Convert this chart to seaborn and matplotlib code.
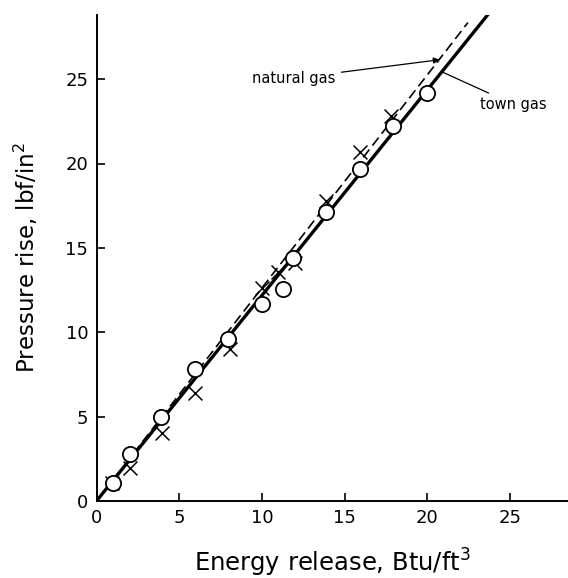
import numpy as np
import pandas as pd
import matplotlib
matplotlib.use("Agg")
import matplotlib.pyplot as plt
import seaborn as sns

# Measured points: town gas (circles) and natural gas (crosses)
town_energy = [1.0, 2.0, 3.9, 5.95, 7.95, 10.0, 11.3, 11.9, 13.9, 15.9, 17.9, 19.95]
town_pressure = [1.05, 2.8, 5.0, 7.8, 9.6, 11.67, 12.56, 14.4, 17.1, 19.7, 22.2, 24.17]

natural_energy = [0.92, 2.0, 3.94, 5.95, 8.05, 10.0, 11.0, 12.0, 13.9, 15.9, 17.8]
natural_pressure = [1.05, 1.95, 4.03, 6.4, 9.0, 12.6, 13.6, 14.1, 17.8, 20.7, 22.8]

# Straight-line fits through the origin
town_fit_energy = [0.0, 23.8]
town_fit_pressure = [0.0, 29.0]
natural_fit_energy = [0.0, 22.45]
natural_fit_pressure = [0.0, 28.35]

x_ticks = [0, 5, 10, 15, 20, 25]
y_ticks = [0, 5, 10, 15, 20, 25]

sns.set_style("ticks")
plt.rcParams["font.family"] = ["DejaVu Sans"]
plt.rcParams["text.color"] = "black"
plt.rcParams["axes.labelcolor"] = "black"

fig = plt.figure(figsize=(5.68, 5.78), dpi=100)
ax = fig.add_axes([96.5 / 568, 77 / 578, (568 - 96.5) / 568, 486 / 578])

town_pts = pd.DataFrame({"energy": town_energy, "pressure": town_pressure})
nat_pts = pd.DataFrame({"energy": natural_energy, "pressure": natural_pressure})
town_fit = pd.DataFrame({"energy": town_fit_energy, "pressure": town_fit_pressure})
nat_fit = pd.DataFrame({"energy": natural_fit_energy, "pressure": natural_fit_pressure})

sns.lineplot(data=town_fit, x="energy", y="pressure", ax=ax, color="black",
             linewidth=2.4, zorder=3)
sns.lineplot(data=nat_fit, x="energy", y="pressure", ax=ax, color="black",
             linewidth=1.2, linestyle=(0, (6, 3)), zorder=3)

sns.scatterplot(data=nat_pts, x="energy", y="pressure", ax=ax, marker="x",
                s=100, color="black", linewidth=1.1, zorder=4)
sns.scatterplot(data=town_pts, x="energy", y="pressure", ax=ax, marker="o",
                s=120, facecolor="white", edgecolor="black", linewidth=1.3, zorder=5)

ax.set_xlim(0, 28.5)
ax.set_ylim(0, 28.8)
ax.set_xticks(x_ticks)
ax.set_yticks(y_ticks)
ax.tick_params(direction="in", length=6, width=1.2, labelsize=13, colors="black", pad=6)
for side in ("left", "bottom"):
    ax.spines[side].set_linewidth(1.4)
    ax.spines[side].set_color("black")
sns.despine(ax=ax)

ax.set_xlabel("Energy release, Btu/ft$^3$", fontsize=17.5, labelpad=14)
ax.set_ylabel("Pressure rise, lbf/in$^2$", fontsize=16.5, labelpad=18)

ax.annotate("natural gas", xy=(20.75, 26.15), xytext=(9.4, 25.05),
            fontsize=10.5, va="center", ha="left",
            arrowprops=dict(arrowstyle="-|>", color="black", lw=0.9,
                            mutation_scale=9, shrinkA=2, shrinkB=0))
ax.annotate("town gas", xy=(20.95, 25.4), xytext=(23.2, 23.5),
            fontsize=10.5, va="center", ha="left",
            arrowprops=dict(arrowstyle="-", color="black", lw=0.9,
                            shrinkA=1, shrinkB=0))

fig.savefig("out.png", dpi=100, facecolor="white")
